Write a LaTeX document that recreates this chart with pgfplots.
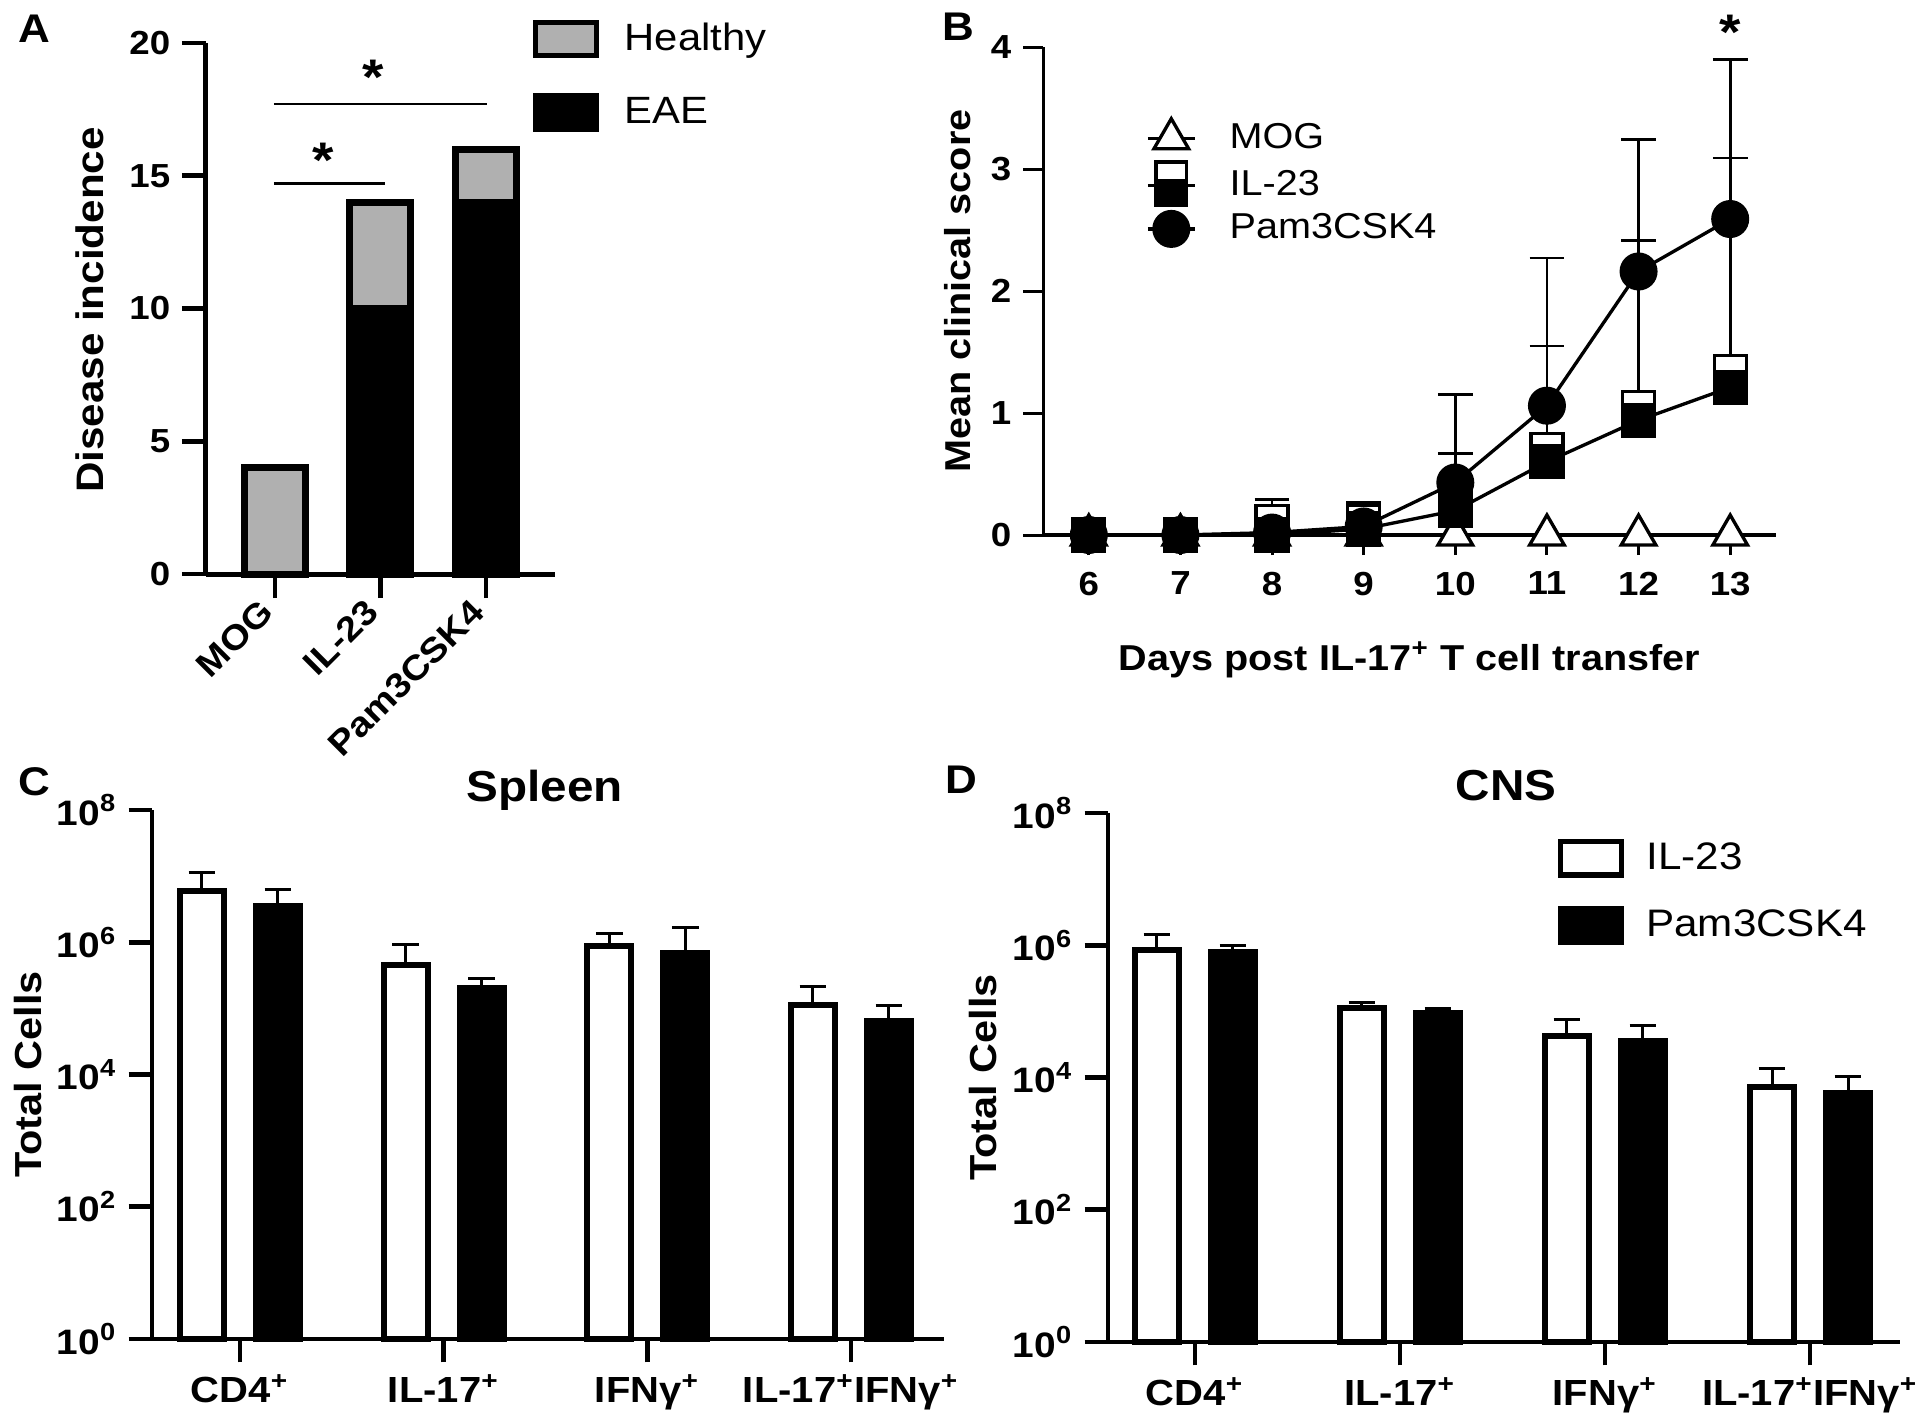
\documentclass[border=0pt]{standalone}
\usepackage{fontspec}
\setmainfont{Liberation Sans}[FakeStretch=1.1]
\usepackage{pgfplots}
\pgfplotsset{compat=1.18}

\definecolor{hgray}{RGB}{176,176,176}
\newcommand{\fs}[1]{\fontsize{#1}{#1}\selectfont}

\pgfplotsset{
  panel/.style={
    scale only axis, anchor=south west, clip=false,
    axis x line*=bottom, axis y line*=left,
    tick align=outside,
    major tick style={black, line width=1.4pt},
    /pgf/number format/assume math mode=true,
    ticklabel style={font=\bfseries\fs{10}},
    legend cell align=left,
  },
  boxlegend/.style={
    legend image code/.code={\draw[##1, line width=1.6pt] (0pt,-5pt) rectangle (18.4pt,5pt);},
  },
}

\begin{document}
\begin{tikzpicture}
\path[use as bounding box] (0,0) rectangle (576pt,426.9pt);

% ---------- A
\begin{axis}[panel,
  at={(61.8pt,254.7pt)}, width=104.7pt, height=159.3pt,
  xmin=-0.654, xmax=2.654, ymin=0, ymax=20,
  axis line style={line width=1.5pt},
  major tick length=7.2pt,
  xtick={0,1,2}, xticklabels={MOG,IL-23,Pam3CSK4},
  xticklabel style={rotate=45, anchor=east, font=\bfseries\fs{10.4}},
  ytick={0,5,10,15,20},
  ybar stacked, bar width=18.3pt,
  ylabel={Disease incidence},
  ylabel style={at={(axis description cs:-0.332,0.497)}, anchor=center, font=\bfseries\fs{11.5}},
  boxlegend,
  legend style={at={(axis description cs:0.934,1.052)}, anchor=north west, draw=none, fill=none,
    font=\fs{11.4}, row sep=8.5pt, inner sep=0pt, /tikz/column 1/.style={column sep=5.6pt}},
  reverse legend,
]
\addplot[fill=black, draw=black, line width=2.1pt] coordinates {(0,0) (1,10) (2,14)};
\addplot[fill=hgray, draw=black, line width=2.1pt] coordinates {(0,4) (1,4) (2,2)};
\legend{EAE, Healthy}
\draw[line width=0.8pt] (axis cs:-0.01,14.7) -- (axis cs:1.04,14.7);
\draw[line width=0.8pt] (axis cs:-0.01,17.7) -- (axis cs:2.01,17.7);
\node[font=\bfseries\fs{15}] at (axis cs:0.46,15.6) {*};
\node[font=\bfseries\fs{15}] at (axis cs:0.93,18.7) {*};
\end{axis}

% ---------- B
\begin{axis}[panel,
  at={(312.9pt,266.4pt)}, width=219.9pt, height=146.4pt,
  xmin=5.5, xmax=13.5, ymin=0, ymax=4,
  x axis line style={line width=1.3pt}, y axis line style={line width=0.9pt},
  major tick style={black, line width=0.9pt},
  major tick length=6pt,
  xtick={6,...,13}, ytick={0,...,4},
  xticklabel style={yshift=-1.5pt},
  xlabel={Days post IL-17\textsuperscript{+} T cell transfer},
  ylabel={Mean clinical score},
  xlabel style={at={(axis description cs:0.5,-0.256)}, anchor=center, font=\bfseries\fs{10.8}},
  ylabel style={at={(axis description cs:-0.116,0.5)}, anchor=center, font=\bfseries\fs{10.8}},
  legend style={at={(axis description cs:0.14,0.858)}, anchor=north west, draw=none, fill=none,
    font=\fs{10.8}, row sep=0pt, inner sep=0pt, /tikz/column 1/.style={column sep=8pt}},
  legend image code/.code={\draw[mark repeat=2, mark phase=2, #1] plot coordinates {(0pt,0pt) (7pt,0pt) (14pt,0pt)};},
  error bars/error bar style={line width=0.8pt, black},
  error bars/error mark options={rotate=90, mark size=5.2pt, line width=0.8pt, black},
]
\addplot[black, line width=1pt, mark=triangle*, mark options={fill=white, mark size=6pt}]
  coordinates {(6,0) (7,0) (8,0) (9,0) (10,0) (11,0) (12,0) (13,0)};
\addplot[black, line width=1pt, only marks, mark=square*, mark options={fill=white, mark size=4.8pt}, forget plot,
  error bars/.cd, y dir=plus, y explicit]
  coordinates {(6,0) (7,0) (8,0.11) +- (0,0.18) (9,0.11) +- (0,0.14) (10,0.29) +- (0,0.38)
    (11,0.70) +- (0,0.85) (12,1.045) +- (0,1.37) (13,1.34) +- (0,1.75)};
\addplot[black, line width=1pt, mark=square*, mark options={fill=black, mark size=4.8pt},
  legend image code/.code={
    \draw[black, line width=1pt] (0pt,0pt) -- (14pt,0pt);
    \draw[black, line width=1pt, fill=white] (2.4pt,-1pt) rectangle (11.6pt,7pt);
    \draw[black, line width=1pt, fill=black] (2.4pt,-6pt) rectangle (11.6pt,1.5pt);}]
  coordinates {(6,0) (7,0) (8,0) (9,0.05) (10,0.2) (11,0.6) (12,0.94) (13,1.21)};
\addplot[black, line width=1pt, mark=*, mark options={fill=black, mark size=5.2pt},
  error bars/.cd, y dir=plus, y explicit]
  coordinates {(6,0) (7,0) (8,0.02) (9,0.07) +- (0,0.2) (10,0.43) +- (0,0.72)
    (11,1.06) +- (0,1.21) (12,2.16) +- (0,1.08) (13,2.59) +- (0,1.31)};
\legend{MOG, IL-23, Pam3CSK4}
\node[font=\bfseries\fs{15}] at (axis cs:13,4.12) {*};
\end{axis}

% ---------- C
\begin{axis}[panel,
  at={(45.6pt,25.2pt)}, width=237.6pt, height=158.7pt,
  ymode=log, ymin=1, ymax=1e8, log origin=infty, yminorticks=false,
  xmin=-0.432, xmax=3.457,
  axis line style={line width=1.4pt},
  major tick length=7pt,
  xtick={0,1,2,3},
  xticklabels={CD4\textsuperscript{+}, IL-17\textsuperscript{+}, IFNγ\textsuperscript{+}, IL-17\textsuperscript{+}IFNγ\textsuperscript{+}},
  xticklabel style={font=\bfseries\fs{10.9}},
  ytick={1,1e2,1e4,1e6,1e8},
  yticklabels={10\textsuperscript{0},10\textsuperscript{2},10\textsuperscript{4},10\textsuperscript{6},10\textsuperscript{8}},
  yticklabel style={font=\bfseries\fs{10.6}},
  ybar, bar width=13.2pt,
  title={Spleen}, title style={at={(axis description cs:0.4956,1.0)}, anchor=center, yshift=0pt, font=\bfseries\fs{13}},
  ylabel={Total Cells}, ylabel style={at={(axis description cs:-0.157,0.5)}, anchor=center, font=\bfseries\fs{11.3}},
  error bars/error bar style={line width=0.9pt, black},
  error bars/error mark options={rotate=90, mark size=4pt, line width=0.9pt, black},
]
\addplot[bar shift=-11.4pt, fill=white, draw=black, line width=1.8pt,
  error bars/.cd, y dir=plus, y explicit]
  coordinates {(0,5.9e6) +- (0,5.6e6) (1,4.6e5) +- (0,4.6e5) (2,8.8e5) +- (0,5.0e5) (3,1.12e5) +- (0,1.05e5)};
\addplot[bar shift=11.4pt, fill=black, draw=black, line width=1.8pt,
  error bars/.cd, y dir=plus, y explicit]
  coordinates {(0,3.55e6) +- (0,2.75e6) (1,2.04e5) +- (0,7.6e4) (2,7.0e5) +- (0,9.8e5) (3,6.5e4) +- (0,4.5e4)};
\end{axis}

% ---------- D
\begin{axis}[panel,
  at={(332.4pt,24.3pt)}, width=237.6pt, height=158.7pt,
  ymode=log, ymin=1, ymax=1e8, log origin=infty, yminorticks=false,
  xmin=-0.424, xmax=3.439,
  axis line style={line width=1.4pt},
  major tick length=7pt,
  xtick={0,1,2,3},
  xticklabels={CD4\textsuperscript{+}, IL-17\textsuperscript{+}, IFNγ\textsuperscript{+}, IL-17\textsuperscript{+}IFNγ\textsuperscript{+}},
  xticklabel style={font=\bfseries\fs{10.9}},
  ytick={1,1e2,1e4,1e6,1e8},
  yticklabels={10\textsuperscript{0},10\textsuperscript{2},10\textsuperscript{4},10\textsuperscript{6},10\textsuperscript{8}},
  yticklabel style={font=\bfseries\fs{10.6}},
  ybar, bar width=13.2pt,
  title={CNS}, title style={at={(axis description cs:0.5028,1.014)}, anchor=center, yshift=0pt, font=\bfseries\fs{13}},
  ylabel={Total Cells}, ylabel style={at={(axis description cs:-0.158,0.5)}, anchor=center, font=\bfseries\fs{11.3}},
  error bars/error bar style={line width=0.9pt, black},
  error bars/error mark options={rotate=90, mark size=4pt, line width=0.9pt, black},
  boxlegend,
  legend style={at={(axis description cs:0.567,0.958)}, anchor=north west, draw=none, fill=none,
    font=\fs{11.5}, row sep=6.5pt, inner sep=0pt, /tikz/column 1/.style={column sep=4.6pt}},
]
\addplot[bar shift=-11.4pt, fill=white, draw=black, line width=1.8pt,
  error bars/.cd, y dir=plus, y explicit]
  coordinates {(0,8.5e5) +- (0,6.3e5) (1,1.12e5) +- (0,2.3e4) (2,4.2e4) +- (0,3.4e4) (3,7.1e3) +- (0,6.4e3)};
\addplot[bar shift=11.4pt, fill=black, draw=black, line width=1.8pt,
  error bars/.cd, y dir=plus, y explicit]
  coordinates {(0,7.8e5) +- (0,2.2e5) (1,9.6e4) +- (0,1.6e4) (2,3.56e4) +- (0,2.54e4) (3,5.9e3) +- (0,4.5e3)};
\legend{IL-23, Pam3CSK4}
\end{axis}

% panel letters
\node[font=\bfseries\fs{12}] at (10.2pt,418.2pt) {A};
\node[font=\bfseries\fs{12}] at (287.4pt,418.8pt) {B};
\node[font=\bfseries\fs{12}] at (10.2pt,192.3pt) {C};
\node[font=\bfseries\fs{12}] at (288.3pt,192.9pt) {D};
\end{tikzpicture}
\end{document}
